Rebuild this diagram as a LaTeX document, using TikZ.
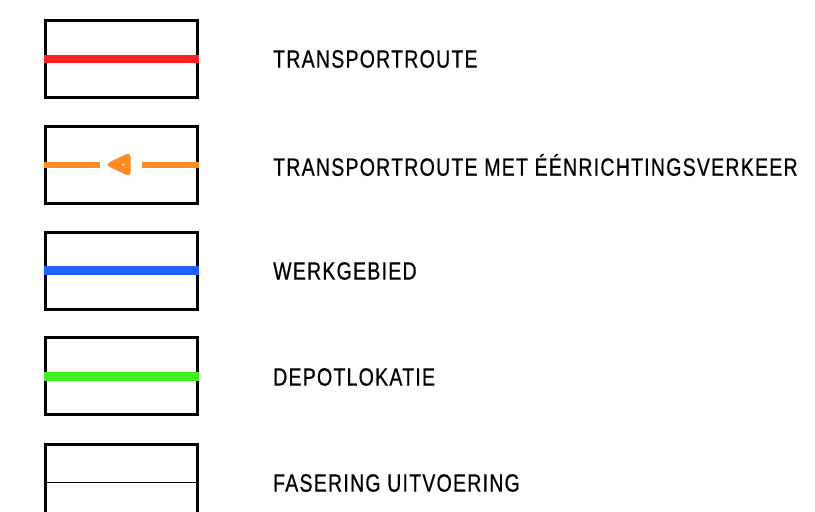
\documentclass[tikz,border=0pt]{standalone}
\usepackage{fontspec}
\setmainfont[FakeStretch=0.78,LetterSpace=5,FakeBold=0.6]{Liberation Sans}
\usepackage{tikz}
\usepackage{xcolor}
\definecolor{routered}{RGB}{255,32,32}
\definecolor{routeorange}{RGB}{255,140,32}
\definecolor{areablue}{RGB}{32,96,255}
\definecolor{depotgreen}{RGB}{64,240,32}

\begin{document}
\begin{tikzpicture}[x=1pt,y=-1pt,every node/.style={font=\fontsize{25}{25}\selectfont},
  legbox/.style={draw,line width=3pt,minimum width=152pt,minimum height=77pt,inner sep=0pt},
  legtext/.style={anchor=west,inner sep=0pt}]
\useasboundingbox (0,0) rectangle (815,512);
\clip (0,0) rectangle (815,512);
% boxes
\node[legbox] (b1) at (121,58.5) {};
\node[legbox] (b2) at (121,164.5) {};
\node[legbox] (b3) at (121,270.5) {};
\node[legbox] (b4) at (121,376) {};
\node[legbox] (b5) at (121,482.5) {};
% lines in the boxes
\draw[routered,line width=8pt] (b1.west) -- (b1.east);
\coordinate (d1) at (100,164.5);
\coordinate (d2) at (142,164.5);
\draw[routeorange,line width=6pt] (b2.west) -- (d1);
\draw[routeorange,line width=6pt] (d2) -- (b2.east);
\filldraw[routeorange,line width=3pt,rounded corners=2.5pt] (108,164.5) -- (129,154.5) -- (129,174.5) -- cycle;
\fill[white] (123,164.5) circle (1.2pt);
\draw[areablue,line width=9pt] (b3.west) -- (b3.east);
\draw[depotgreen,line width=9pt] (b4.west) -- (b4.east);
\draw[line width=1pt] (b5.west) -- (b5.east);
% texts
\node[legtext] (t1) at (273,59) {TRANSPORTROUTE};
\node[legtext] (t2) at (273,165) {TRANSPORTROUTE MET ÉÉNRICHTINGSVERKEER};
\node[legtext] (t3) at (273,271) {WERKGEBIED};
\node[legtext] (t4) at (273,377) {DEPOTLOKATIE};
\node[legtext] (t5) at (273,483) {FASERING UITVOERING};
\end{tikzpicture}
\end{document}
